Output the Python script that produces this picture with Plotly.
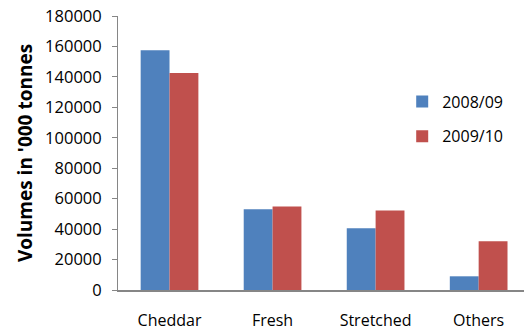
import plotly.graph_objects as go

categories = ["Cheddar", "Fresh", "Stretched", "Others"]
vol_2008_09 = [157500, 53000, 40500, 9000]
vol_2009_10 = [142500, 54800, 52200, 32000]
y_ticks = [0, 20000, 40000, 60000, 80000, 100000, 120000, 140000, 160000, 180000]

FONT = "'Open Sans', Calibri, sans-serif"

fig = go.Figure()
fig.add_trace(go.Bar(name="2008/09", x=categories, y=vol_2008_09, legendgroup="a",
                     marker=dict(color="#4f81bd", line=dict(width=0))))
fig.add_trace(go.Bar(name="2009/10", x=categories, y=vol_2009_10, legendgroup="b",
                     marker=dict(color="#c0504d", line=dict(width=0))))

fig.update_layout(
    width=524, height=331,
    margin=dict(l=118, r=0, t=16, b=38),
    paper_bgcolor="white", plot_bgcolor="white",
    barmode="group", bargap=0.44, bargroupgap=0,
    font=dict(family=FONT, size=15, color="black"),
    showlegend=True,
    legend=dict(x=0.70, y=0.75, xanchor="left", yanchor="top",
                font=dict(family=FONT, size=16, color="black"),
                itemwidth=30, tracegroupgap=11, bgcolor="rgba(0,0,0,0)"),
    xaxis=dict(
        range=[-0.5, 3.44], showgrid=False, zeroline=False,
        showline=True, linecolor="#868686", linewidth=2,
        ticks="", tickfont=dict(family=FONT, size=16),
        ticklabelstandoff=15,
    ),
    yaxis=dict(
        range=[0, 180000], tickvals=y_ticks, ticktext=[str(v) for v in y_ticks],
        showgrid=False, zeroline=False,
        showline=True, linecolor="#868686", linewidth=1,
        ticks="outside", ticklen=5, tickcolor="#868686",
        tickfont=dict(family=FONT, size=16.5),
        ticklabelstandoff=7,
        title=dict(text="<b>Volumes in '000 tonnes</b>",
                   font=dict(family=FONT, size=19), standoff=7),
    ),
)

fig.write_html("out.html")
